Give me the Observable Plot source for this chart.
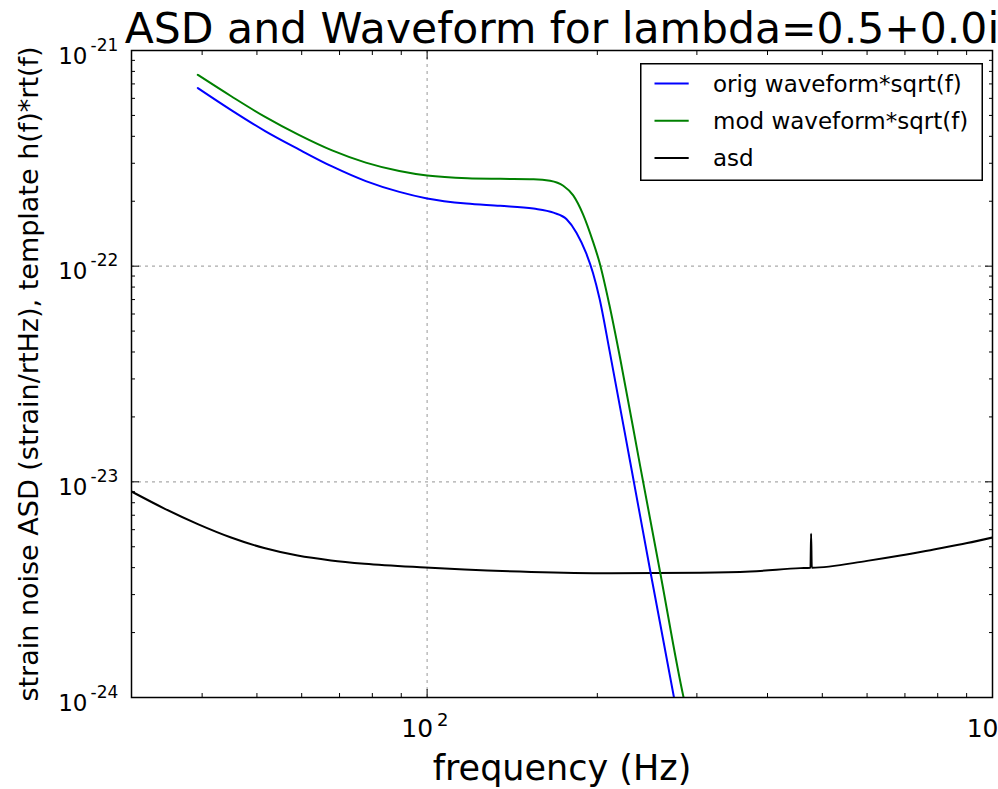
<!DOCTYPE html>
<html><head><meta charset="utf-8">
<script src="https://cdn.jsdelivr.net/npm/d3@7"></script>
<script src="https://cdn.jsdelivr.net/npm/@observablehq/plot@0.6"></script>
<style>
html,body{margin:0;padding:0;background:#fff;}
#wrap{position:relative;width:998px;height:789px;overflow:hidden;font-family:"DejaVu Sans",sans-serif;}
</style></head><body><div id="wrap"></div>
<script>
// ---- text ----
const titleText = "ASD and Waveform for lambda=0.5+0.0i";
const xLabelText = "frequency (Hz)";
const yLabelText = "strain noise ASD (strain/rtHz), template h(f)*rt(f)";
const legendLabels = ["orig waveform*sqrt(f)", "mod waveform*sqrt(f)", "asd"];
const seriesColors = ["#0000ff", "#008000", "#000000"];

// ---- ticks ----
const xMajorTicks = [100, 1000];
const xTickExponents = ["2", "3"];
const xMinorTicks = [30, 40, 50, 60, 70, 80, 90, 200, 300, 400, 500, 600, 700, 800, 900];
const yMajorTicks = [1e-24, 1e-23, 1e-22, 1e-21];
const yTickExponents = ["-24", "-23", "-22", "-21"];
const yMinorTicks = [2e-24, 3e-24, 4e-24, 5e-24, 6e-24, 7e-24, 8e-24, 9e-24,
                     2e-23, 3e-23, 4e-23, 5e-23, 6e-23, 7e-23, 8e-23, 9e-23,
                     2e-22, 3e-22, 4e-22, 5e-22, 6e-22, 7e-22, 8e-22, 9e-22];
const xGridTicks = [100];
const yGridTicks = [1e-23, 1e-22];

// ---- data: orig waveform*sqrt(f) ----
const origFreq = [39.3, 45.1, 51.7, 59.3, 67.9, 77.9, 89.3, 100, 117.3, 134.6, 154.2, 167.3, 176.5, 183.7, 191.2, 196.5, 201.8, 210.2, 228.7, 248.0, 273.3, 280.4];
const origVal  = [6.70e-22, 5.28e-22, 4.23e-22, 3.48e-22, 2.90e-22, 2.48e-22, 2.21e-22, 2.06e-22, 1.95e-22, 1.905e-22, 1.85e-22, 1.77e-22, 1.65e-22, 1.43e-22, 1.145e-22, 9.30e-23, 7.08e-23, 4.06e-23, 1.232e-23, 3.89e-24, 1.0e-24, 6.90e-25];

// ---- data: mod waveform*sqrt(f) ----
const modFreq = [39.3, 45.1, 51.7, 59.3, 67.9, 77.9, 89.3, 100, 117.9, 134.7, 154.3, 165.0, 174.1, 181.3, 188.7, 196.5, 201.8, 210.1, 219.6, 238.2, 258.5, 284.2, 298.1];
const modVal  = [7.71e-22, 6.12e-22, 4.92e-22, 4.06e-22, 3.44e-22, 3.02e-22, 2.76e-22, 2.63e-22, 2.555e-22, 2.54e-22, 2.53e-22, 2.49e-22, 2.36e-22, 2.13e-22, 1.74e-22, 1.30e-22, 1.04e-22, 6.60e-23, 3.71e-23, 1.18e-23, 3.77e-24, 1.0e-24, 5.93e-25];

// ---- data: asd ----
const asdFreq = [30, 34.3, 39.3, 45.0, 51.5, 59.0, 67.6, 77.5, 99.3, 116.4, 152.8, 211.7, 304.1, 373.1, 457.4, 476.5, 477.7, 479.0, 600.1, 687.1, 787.4, 902, 1000];
const asdVal  = [9.02e-24, 7.52e-24, 6.37e-24, 5.52e-24, 4.93e-24, 4.55e-24, 4.32e-24, 4.17e-24, 4.005e-24, 3.92e-24, 3.82e-24, 3.77e-24, 3.79e-24, 3.84e-24, 3.98e-24, 4.00e-24, 5.74e-24, 4.00e-24, 4.30e-24, 4.55e-24, 4.86e-24, 5.20e-24, 5.52e-24];

const toRows = (fs, vs) => fs.map((f, i) => ({f, v: vs[i]}));
const origRows = toRows(origFreq, origVal);
const modRows = toRows(modFreq, modVal);
const asdRows = toRows(asdFreq, asdVal);

const FONT = "DejaVu Sans";
const tickStyle = {tickFormat: () => "", label: null, stroke: "#000", strokeWidth: 1};

const chart = Plot.plot({
  width: 998, height: 789,
  marginLeft: 131, marginRight: 6, marginTop: 50, marginBottom: 92,
  style: {fontFamily: FONT, background: "#fff", color: "#000", overflow: "visible"},
  x: {type: "log", domain: [30, 1000]},
  y: {type: "log", domain: [1e-24, 1e-21]},
  marks: [
    Plot.ruleX(xGridTicks, {x: d => d, stroke: "#aaaaaa", strokeWidth: 1.2, strokeDasharray: "3,4"}),
    Plot.ruleY(yGridTicks, {y: d => d, stroke: "#aaaaaa", strokeWidth: 1.2, strokeDasharray: "3,4"}),
    Plot.line(asdRows, {x: "f", y: "v", stroke: seriesColors[2], strokeWidth: 2, curve: "monotone-x", clip: true}),
    Plot.line(origRows, {x: "f", y: "v", stroke: seriesColors[0], strokeWidth: 2, curve: "monotone-x", clip: true}),
    Plot.line(modRows, {x: "f", y: "v", stroke: seriesColors[1], strokeWidth: 2, curve: "monotone-x", clip: true}),
    // inward ticks on all four sides
    Plot.axisX(xMajorTicks, {anchor: "bottom", tickSize: -8, ...tickStyle}),
    Plot.axisX(xMinorTicks, {anchor: "bottom", tickSize: -4, ...tickStyle}),
    Plot.axisX(xMajorTicks, {anchor: "top", tickSize: -8, ...tickStyle}),
    Plot.axisX(xMinorTicks, {anchor: "top", tickSize: -4, ...tickStyle}),
    Plot.axisY(yMajorTicks, {anchor: "left", tickSize: -8, ...tickStyle}),
    Plot.axisY(yMinorTicks, {anchor: "left", tickSize: -4, ...tickStyle}),
    Plot.axisY(yMajorTicks, {anchor: "right", tickSize: -8, ...tickStyle}),
    Plot.axisY(yMinorTicks, {anchor: "right", tickSize: -4, ...tickStyle}),
    Plot.frame({stroke: "#000", strokeWidth: 1.5}),
    // tick labels 10^n
    Plot.text(xMajorTicks, {x: d => d, frameAnchor: "bottom", text: () => "10", textAnchor: "end", lineAnchor: "bottom", dx: 6, dy: 39, fontSize: 25, fontFamily: FONT, fill: "#000"}),
    Plot.text(xMajorTicks, {x: d => d, frameAnchor: "bottom", text: (d, i) => xTickExponents[i], textAnchor: "start", lineAnchor: "bottom", dx: 10, dy: 28, fontSize: 18, fontFamily: FONT, fill: "#000"}),
    Plot.text(yMajorTicks, {y: d => d, frameAnchor: "left", text: () => "10", textAnchor: "end", lineAnchor: "bottom", dx: -44, dy: 13, fontSize: 23, fontFamily: FONT, fill: "#000"}),
    Plot.text(yMajorTicks, {y: d => d, frameAnchor: "left", text: (d, i) => yTickExponents[i], textAnchor: "start", lineAnchor: "bottom", dx: -41, dy: 0, fontSize: 17, fontFamily: FONT, fill: "#000"}),
    // title and axis labels
    Plot.text([titleText], {frameAnchor: "top", text: d => d, textAnchor: "middle", lineAnchor: "bottom", dy: -8, fontSize: 42.5, fontFamily: FONT, fill: "#000"}),
    Plot.text([xLabelText], {frameAnchor: "bottom", text: d => d, textAnchor: "middle", lineAnchor: "bottom", dy: 82, fontSize: 35, fontFamily: FONT, fill: "#000"}),
    Plot.text([yLabelText], {frameAnchor: "left", text: d => d, textAnchor: "middle", rotate: -90, lineAnchor: "bottom", dx: -94, fontSize: 27, fontFamily: FONT, fill: "#000"})
  ]
});
const wrap = document.getElementById("wrap");
wrap.appendChild(chart);

// ---- legend (overlay box, upper right) ----
const LW = 343, LH = 118;
const leg = d3.create("svg").attr("width", LW).attr("height", LH)
  .style("position", "absolute").style("left", "640px").style("top", "63px");
leg.append("rect").attr("x", 0.75).attr("y", 0.75).attr("width", LW - 1.5).attr("height", LH - 1.5)
  .attr("fill", "#fff").attr("stroke", "#000").attr("stroke-width", 1.5);
legendLabels.forEach((lab, i) => {
  const cy = 20.5 + i * 37.2;
  leg.append("line").attr("x1", 14.5).attr("x2", 48.7).attr("y1", cy).attr("y2", cy)
    .attr("stroke", seriesColors[i]).attr("stroke-width", 2);
  leg.append("text").attr("x", 73).attr("y", cy).attr("dy", "0.35em")
    .attr("font-family", FONT).attr("font-size", 23).attr("fill", "#000").text(lab);
});
wrap.appendChild(leg.node());
</script>
</body></html>
